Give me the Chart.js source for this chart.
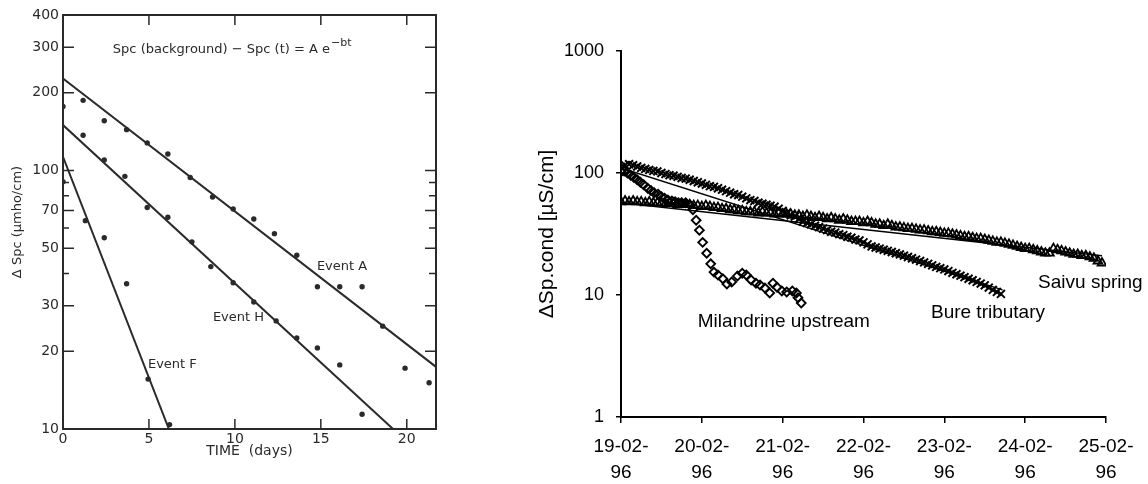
<!DOCTYPE html>
<html>
<head>
<meta charset="utf-8">
<script src="https://cdn.jsdelivr.net/npm/chart.js@4.4.1/dist/chart.umd.min.js"></script>
<style>
  html, body { margin: 0; padding: 0; background: #fff; }
  #wrap { position: relative; width: 1148px; height: 484px; overflow: hidden; }
  #left { position: absolute; left: 0; top: 0; }
  #right { position: absolute; left: 470px; top: 0; }
</style>
</head>
<body>
<div id="wrap">
  <canvas id="left" width="470" height="484"></canvas>
  <canvas id="right" width="678" height="484"></canvas>
</div>
<script>
// ---- left panel: decay of delta Spc after events (days) ----
var leftXTicks = [0, 5, 10, 15, 20];
var leftYTicks = [10, 20, 30, 50, 70, 100, 200, 300, 400];
var leftYMinor = [40, 60, 80, 90];

var eventAT = [0, 1.17, 2.4, 3.7, 4.9, 6.1, 7.4, 8.7, 9.9, 11.1, 12.3, 13.6, 14.8, 16.1, 17.4, 18.6, 19.9, 21.3];
var eventAV = [177, 187, 156, 144, 128, 116, 94, 79, 71, 65, 57, 47, 35.5, 35.5, 35.5, 25, 17.2, 15.1];
var eventHT = [1.17, 2.4, 3.6, 4.9, 6.1, 7.5, 8.6, 9.9, 11.1, 12.4, 13.6, 14.8, 16.1, 17.4];
var eventHV = [137, 110, 95, 72, 66, 53, 42.5, 36.8, 31, 26.2, 22.5, 20.6, 17.7, 11.4];
var eventFT = [0, 1.3, 2.4, 3.7, 4.95, 6.2];
var eventFV = [90.6, 64, 55, 36.5, 15.6, 10.4];

var fitAT = [0, 21.7], fitAV = [227, 17.4];
var fitHT = [0, 19.2], fitHV = [150, 10];
var fitFT = [0, 6.16], fitFV = [113, 10];

// ---- right panel: Sp.cond recession, Feb 1996 ----
var dateLabels = [['19-02-', '96'], ['20-02-', '96'], ['21-02-', '96'], ['22-02-', '96'],
                  ['23-02-', '96'], ['24-02-', '96'], ['25-02-', '96']];
var rightYTicks = [1, 10, 100, 1000];

var milT = [0, 0.04, 0.08, 0.12, 0.16, 0.20, 0.24, 0.28, 0.33, 0.37,
            0.41, 0.46, 0.50, 0.54, 0.58, 0.63, 0.67, 0.71, 0.75, 0.80,
            0.85, 0.89, 0.93, 0.97, 1.01, 1.06, 1.11, 1.15, 1.20, 1.26,
            1.31, 1.37, 1.44, 1.50, 1.55, 1.61, 1.67, 1.72, 1.78, 1.84,
            1.88, 1.93, 1.99, 2.05, 2.12, 2.17, 2.19, 2.23];
var milV = [102, 104, 100, 96, 92, 88, 84, 80, 75, 72,
            69, 67, 64, 62, 60, 59, 58, 57, 57, 57,
            55, 50, 41, 34, 27, 22, 18, 15.4, 14.6, 13.6,
            12.3, 12.8, 14.3, 15.1, 14.6, 13.3, 12.5, 12.1, 11.4, 10.4,
            12.5, 11.6, 10.8, 10.6, 10.8, 10.4, 9.5, 8.6];

// logger readings every 0.05 day
var logStep = 0.05;
var bureV = [112, 116, 118, 116, 113, 110, 108, 106, 104, 103,
             100, 98, 96, 95, 93, 91, 90, 88, 86, 84,
             82, 80, 78, 77, 75, 73, 71, 69, 67, 66,
             64, 62, 60, 59, 57, 56, 55, 54, 53, 51,
             49, 47, 45, 44, 42, 40, 39, 38, 37, 36,
             35, 34, 33, 32.5, 31.5, 31, 30, 29.5, 28.5, 28,
             27, 26, 25, 24.5, 24, 23.5, 23, 22.5, 22, 21.5,
             21, 20.5, 20, 19.5, 19, 18.5, 18, 17.5, 17, 16.6,
             16.2, 15.7, 15.2, 14.8, 14.4, 14, 13.6, 13.2, 12.8, 12.4,
             12, 11.5, 11, 10.6, 10.2];
var saivuV = [58, 59, 58, 59, 58, 58, 57, 58, 57, 57,
              57, 56, 57, 56, 55, 56, 55, 55, 54, 54,
              53, 54, 53, 52, 52, 51, 51, 50, 50, 49,
              49, 48, 48, 48, 47, 48, 47, 47, 46, 47,
              46, 46, 46, 45, 45, 44, 45, 44, 43, 44,
              43, 42, 43, 42, 41, 42, 41, 40, 40, 40,
              39, 40, 39, 38, 38, 37, 38, 37, 36, 36,
              35.5, 35, 35, 34.5, 34, 34, 33.5, 33, 33, 32.5,
              32, 32, 31.5, 31, 30.5, 30, 30, 29.5, 29, 29,
              28.5, 28, 27.5, 27, 27, 26.5, 26, 25.5, 25, 24.5,
              24, 24, 23.5, 23, 22.5, 22, 22, 24, 23.5, 23,
              22.5, 22, 21.5, 21.5, 21, 21, 20.5, 20, 19, 18.3];

var bureFitT = [0, 4.72], bureFitV = [110, 11];
var saivuFitT = [0, 5.95], saivuFitV = [57, 21];

function pts(ts, vs) {
  return vs.map(function(v, i) { return { x: ts[i], y: v }; });
}
function stepPts(vs) {
  return vs.map(function(v, i) { return { x: +(i * logStep).toFixed(2), y: v }; });
}

// text labels placed in data coordinates
var notes = {
  id: 'notes',
  afterDatasetsDraw: function(chart, args, opts) {
    var ctx = chart.ctx, x = chart.scales.x, y = chart.scales.y;
    ctx.save();
    ctx.fillStyle = opts.color;
    ctx.textBaseline = 'middle';
    opts.items.forEach(function(n) {
      ctx.font = opts.font;
      ctx.textAlign = n.align || 'left';
      var px = x.getPixelForValue(n.x), py = y.getPixelForValue(n.y);
      ctx.fillText(n.text, px, py);
      if (n.sup) {
        var w = ctx.measureText(n.text).width;
        ctx.font = opts.supFont;
        ctx.textAlign = 'left';
        ctx.fillText(n.sup, px + w + 1, py - 6);
      }
    });
    ctx.restore();
  }
};

// box and inward ticks of the scanned figure
var frame = {
  id: 'frame',
  afterDraw: function(chart, args, opts) {
    var ctx = chart.ctx, a = chart.chartArea, x = chart.scales.x, y = chart.scales.y;
    ctx.save();
    ctx.strokeStyle = opts.color;
    ctx.lineWidth = 2;
    ctx.strokeRect(a.left, a.top, a.right - a.left, a.bottom - a.top);
    ctx.lineWidth = 1.5;
    ctx.beginPath();
    function seg(x1, y1, x2, y2) { ctx.moveTo(x1, y1); ctx.lineTo(x2, y2); }
    opts.yMajor.forEach(function(v) {
      var py = y.getPixelForValue(v);
      seg(a.left, py, a.left + 11, py);
      seg(a.right, py, a.right - 11, py);
    });
    opts.yMinor.forEach(function(v) {
      var py = y.getPixelForValue(v);
      seg(a.left, py, a.left + 6, py);
      seg(a.right, py, a.right - 7, py);
    });
    opts.xMajor.forEach(function(v) {
      var px = x.getPixelForValue(v);
      seg(px, a.bottom, px, a.bottom - 10);
      seg(px, a.top, px, a.top + 10);
    });
    ctx.stroke();
    ctx.restore();
  }
};

var ink = '#2a2a2a';
var scanFont = { family: 'DejaVu Sans', size: 14 };

function dots(ts, vs) {
  return { data: pts(ts, vs), pointRadius: 2.7, pointStyle: 'circle',
           backgroundColor: ink, borderWidth: 0, showLine: false };
}
function fit(ts, vs, color, width) {
  return { data: pts(ts, vs), showLine: true, pointRadius: 0,
           borderColor: color, borderWidth: width, fill: false };
}

new Chart(document.getElementById('left').getContext('2d'), {
  type: 'scatter',
  data: {
    datasets: [
      fit(fitAT, fitAV, ink, 2), fit(fitHT, fitHV, ink, 2), fit(fitFT, fitFV, ink, 2),
      dots(eventAT, eventAV), dots(eventHT, eventHV), dots(eventFT, eventFV)
    ]
  },
  options: {
    responsive: false, animation: false, devicePixelRatio: 1,
    layout: { padding: { left: 10, right: 34, top: 15, bottom: 24 } },
    plugins: {
      legend: { display: false }, tooltip: { enabled: false },
      frame: { color: ink, yMajor: [20, 30, 50, 70, 100, 200, 300], yMinor: leftYMinor, xMajor: [5, 10, 15, 20] },
      notes: {
        color: ink, font: '13px "DejaVu Sans"', supFont: '11px "DejaVu Sans"',
        items: [
          { text: 'Spc (background) \u2212 Spc (t) = A e', sup: '\u2212bt', x: 2.9, y: 294 },
          { text: 'Event A', x: 14.77, y: 42.5 },
          { text: 'Event H', x: 8.72, y: 26.9 },
          { text: 'Event F', x: 4.94, y: 17.7 }
        ]
      }
    },
    scales: {
      x: {
        type: 'linear', min: 0, max: 21.7,
        afterBuildTicks: function(s) { s.ticks = leftXTicks.map(function(v) { return { value: v }; }); },
        afterFit: function(s) { s.height = 31; },
        grid: { display: false, drawTicks: false }, border: { display: false },
        ticks: { font: scanFont, color: ink, padding: 2, maxRotation: 0 },
        title: { display: true, text: 'TIME  (days)', font: scanFont, color: ink, padding: 0 }
      },
      y: {
        type: 'logarithmic', min: 10, max: 400,
        afterBuildTicks: function(s) { s.ticks = leftYTicks.map(function(v) { return { value: v }; }); },
        afterFit: function(s) { s.width = 53; },
        grid: { display: false, drawTicks: false }, border: { display: false },
        ticks: { font: scanFont, color: ink, padding: 4, callback: function(v) { return String(v); } },
        title: { display: true, text: '\u0394 Spc (\u03bcmho/cm)', font: { family: 'DejaVu Sans', size: 13 }, color: ink, padding: 0 }
      }
    }
  },
  plugins: [frame, notes]
});

new Chart(document.getElementById('right').getContext('2d'), {
  type: 'scatter',
  data: {
    datasets: [
      fit(bureFitT, bureFitV, '#000', 1.4),
      fit(saivuFitT, saivuFitV, '#000', 1.4),
      { data: pts(milT, milV), pointStyle: 'rectRot', pointRadius: 4.4, borderColor: '#000',
        backgroundColor: 'rgba(0,0,0,0)', borderWidth: 1.9 },
      { data: stepPts(bureV), pointStyle: 'crossRot', pointRadius: 5.6, borderColor: '#000',
        borderWidth: 2 },
      { data: stepPts(saivuV), pointStyle: 'triangle', pointRadius: 5, borderColor: '#000',
        backgroundColor: 'rgba(0,0,0,0)', borderWidth: 1.8 }
    ]
  },
  options: {
    responsive: false, animation: false, devicePixelRatio: 1,
    layout: { padding: { left: 65, right: 42, top: 51, bottom: 0 } },
    plugins: {
      legend: { display: false }, tooltip: { enabled: false },
      notes: {
        color: '#000', font: '19px "Liberation Sans"',
        items: [
          { text: 'Milandrine upstream', x: 0.95, y: 6.0 },
          { text: 'Bure tributary', x: 4.54, y: 7.1, align: 'center' },
          { text: 'Saivu spring', x: 5.16, y: 12.5 }
        ]
      }
    },
    scales: {
      x: {
        type: 'linear', min: 0, max: 6,
        afterBuildTicks: function(s) { s.ticks = dateLabels.map(function(l, i) { return { value: i }; }); },
        afterFit: function(s) { s.height = 67; },
        grid: { drawOnChartArea: false, drawTicks: true, tickLength: 6, color: '#000', lineWidth: 1.5 },
        border: { display: true, color: '#000', width: 2 },
        ticks: { font: { family: 'Liberation Sans', size: 19, lineHeight: 1.4 }, color: '#000', padding: 10,
                 maxRotation: 0, autoSkip: false,
                 callback: function(v, i) { return dateLabels[i]; } }
      },
      y: {
        type: 'logarithmic', min: 1, max: 1000,
        afterBuildTicks: function(s) { s.ticks = rightYTicks.map(function(v) { return { value: v }; }); },
        afterFit: function(s) { s.width = 86; },
        grid: { drawOnChartArea: false, drawTicks: true, tickLength: 5, color: '#000', lineWidth: 1.5 },
        border: { display: true, color: '#000', width: 2 },
        ticks: { font: { family: 'Liberation Sans', size: 18 }, color: '#000', padding: 12,
                 callback: function(v) { return String(v); } },
        title: { display: true, text: '\u0394Sp.cond [\u00b5S/cm]', font: { family: 'Liberation Sans', size: 21 },
                 color: '#000', padding: 0 }
      }
    }
  },
  plugins: [notes]
});
</script>
</body>
</html>
